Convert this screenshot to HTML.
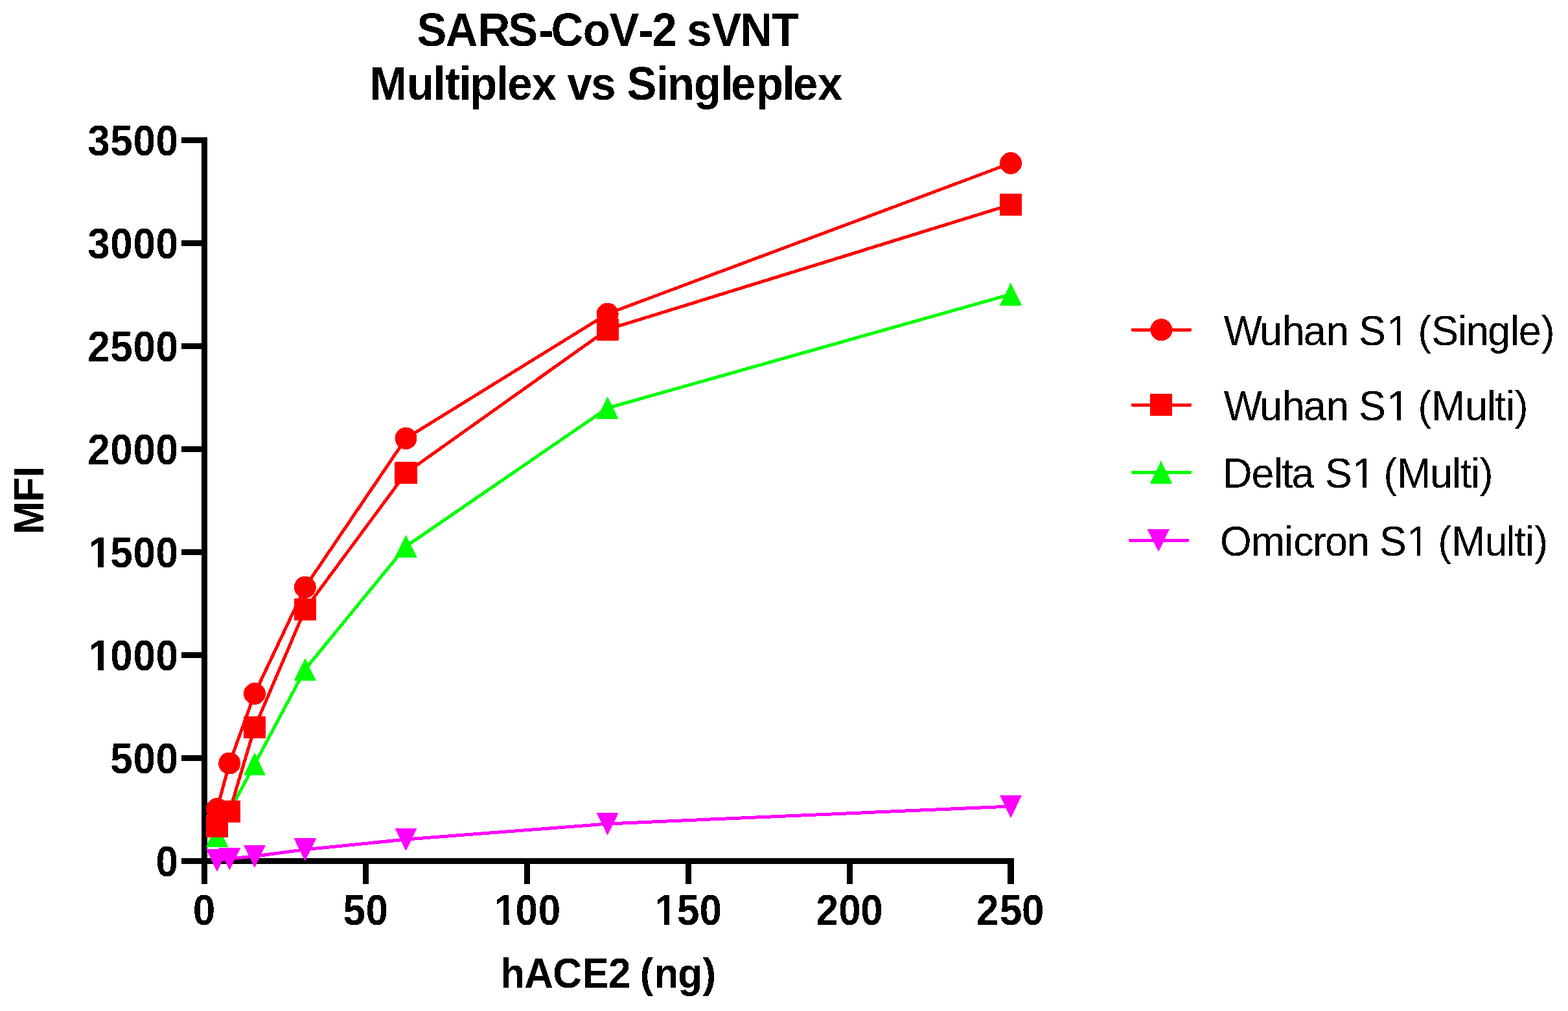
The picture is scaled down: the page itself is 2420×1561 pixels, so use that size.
<!DOCTYPE html>
<html><head><meta charset="utf-8"><title>SARS-CoV-2 sVNT Multiplex vs Singleplex</title>
<style>
html,body{margin:0;padding:0;background:#fff;}
body{width:2420px;height:1561px;overflow:hidden;}
svg{display:block;}
text{font-family:"Liberation Sans", Arial, sans-serif;font-kerning:none;fill:#000;}
.b{font-weight:bold;}
</style></head><body>
<svg width="2420" height="1561" viewBox="0 0 2420 1561">
<defs><filter id="bin" x="0" y="0" width="100%" height="100%" filterUnits="userSpaceOnUse"><feComponentTransfer><feFuncA type="discrete" tableValues="0 1"/></feComponentTransfer></filter></defs>
<rect x="0" y="0" width="2420" height="1561" fill="#fff"/>
<g filter="url(#bin)">
<text class="b" x="643.4 687.69 737.85 784.3 831.62 850.62 899.77 940.54 985.52 1006.14 1043.1 1060.16 1098.54 1142.21 1191.01" y="0" transform="translate(0,71) scale(1,1.056)" font-size="68.84">SARS-CoV-2 sVNT</text>
<text class="b" x="570.83 628.06 668.42 687.04 708.47 725.27 766.37 783.29 820.87 857.83 875.42 912.16 949.12 967.5 1013.37 1029.79 1070.97 1112.47 1128.04 1167.07 1207.42 1224.09 1261.92" y="0" transform="translate(0,154) scale(1,1.056)" font-size="68.84">Multiplex vs Singleplex</text>
<g fill="#000">
<rect x="311" y="212" width="9" height="1153"/>
<rect x="280" y="1325" width="1285" height="9"/>
<rect x="280" y="1166.0" width="31" height="9"/>
<rect x="280" y="1007.0" width="31" height="9"/>
<rect x="280" y="848.0" width="31" height="9"/>
<rect x="280" y="689.0" width="31" height="9"/>
<rect x="280" y="530.0" width="31" height="9"/>
<rect x="280" y="371.0" width="31" height="9"/>
<rect x="280" y="212.0" width="31" height="9"/>
<rect x="559.9" y="1334" width="9" height="31"/>
<rect x="808.8" y="1334" width="9" height="31"/>
<rect x="1057.7" y="1334" width="9" height="31"/>
<rect x="1306.6" y="1334" width="9" height="31"/>
<rect x="1555.5" y="1334" width="9" height="31"/>
</g>
<text class="b" x="240.56" y="0" transform="translate(0,1353) scale(1,1.07)" font-size="62.0">0</text>
<text class="b" x="170.36 205.46 240.56" y="0" transform="translate(0,1194) scale(1,1.07)" font-size="62.0">500</text>
<text class="b" x="136.76 170.36 205.46 240.56" y="0" transform="translate(0,1035) scale(1,1.07)" font-size="62.0">1000</text>
<text class="b" x="136.76 170.36 205.46 240.56" y="0" transform="translate(0,876) scale(1,1.07)" font-size="62.0">1500</text>
<text class="b" x="135.26 170.36 205.46 240.56" y="0" transform="translate(0,717) scale(1,1.07)" font-size="62.0">2000</text>
<text class="b" x="135.26 170.36 205.46 240.56" y="0" transform="translate(0,558) scale(1,1.07)" font-size="62.0">2500</text>
<text class="b" x="135.26 170.36 205.46 240.56" y="0" transform="translate(0,399) scale(1,1.07)" font-size="62.0">3000</text>
<text class="b" x="135.26 170.36 205.46 240.56" y="0" transform="translate(0,240) scale(1,1.07)" font-size="62.0">3500</text>
<text class="b" x="297.85" y="0" transform="translate(0,1427.9) scale(1,1.07)" font-size="62.0">0</text>
<text class="b" x="529.43 564.53" y="0" transform="translate(0,1427.9) scale(1,1.07)" font-size="62.0">50</text>
<text class="b" x="762.54 795.5 830.8" y="0" transform="translate(0,1427.9) scale(1,1.07)" font-size="62.0">100</text>
<text class="b" x="1010.44 1045.12 1079.6" y="0" transform="translate(0,1427.9) scale(1,1.07)" font-size="62.0">150</text>
<text class="b" x="1259.53 1294.2 1328.2" y="0" transform="translate(0,1427.9) scale(1,1.07)" font-size="62.0">200</text>
<text class="b" x="1507.03 1542.92 1577" y="0" transform="translate(0,1427.9) scale(1,1.07)" font-size="62.0">250</text>
<text class="b" x="772.27 809.21 853.24 898.51 938.98 972.93 987.71 1009.44 1046.22 1084.59" y="0" transform="translate(0,1524.9) scale(1,1.053)" font-size="62.0">hACE2 (ng)</text>
<text class="b" x="174.78 225.23 262.99" y="0" transform="translate(67,1000) rotate(-90) scale(1,1.055)" font-size="62.0">MFI</text>
<polyline points="335,1328 354.2,1326 393,1322 470.8,1311.8 626.5,1296 937.6,1272 1560,1245" fill="none" stroke="#FF00FF" stroke-width="5" stroke-linejoin="round"/>
<polygon points="317.8,1310.8 352.2,1310.8 335,1345.8" fill="#FF00FF"/>
<polygon points="337,1308.8 371.4,1308.8 354.2,1343.8" fill="#FF00FF"/>
<polygon points="375.8,1304.8 410.2,1304.8 393,1339.8" fill="#FF00FF"/>
<polygon points="453.6,1294.6 488,1294.6 470.8,1329.6" fill="#FF00FF"/>
<polygon points="609.3,1278.8 643.7,1278.8 626.5,1313.8" fill="#FF00FF"/>
<polygon points="920.4,1254.8 954.8,1254.8 937.6,1289.8" fill="#FF00FF"/>
<polygon points="1542.8,1227.8 1577.2,1227.8 1560,1262.8" fill="#FF00FF"/>
<polyline points="335,1290.7 354.2,1252.5 393,1180 470.8,1033.7 626.5,843.6 937.6,630 1560,454.3" fill="none" stroke="#00FF00" stroke-width="5" stroke-linejoin="round"/>
<polygon points="335,1272.9 352.2,1307.9 317.8,1307.9" fill="#00FF00"/>
<polygon points="354.2,1234.7 371.4,1269.7 337,1269.7" fill="#00FF00"/>
<polygon points="393,1162.2 410.2,1197.2 375.8,1197.2" fill="#00FF00"/>
<polygon points="470.8,1015.9 488,1050.9 453.6,1050.9" fill="#00FF00"/>
<polygon points="626.5,825.8 643.7,860.8 609.3,860.8" fill="#00FF00"/>
<polygon points="937.6,612.2 954.8,647.2 920.4,647.2" fill="#00FF00"/>
<polygon points="1560,436.5 1577.2,471.5 1542.8,471.5" fill="#00FF00"/>
<polyline points="335,1275.9 354.2,1253 393,1123.3 470.8,940.9 626.5,730.3 937.6,508.7 1560,315.9" fill="none" stroke="#FF0000" stroke-width="5" stroke-linejoin="round"/>
<rect x="318" y="1258.9" width="34" height="34" fill="#FF0000"/>
<rect x="337.2" y="1236" width="34" height="34" fill="#FF0000"/>
<rect x="376" y="1106.3" width="34" height="34" fill="#FF0000"/>
<rect x="453.8" y="923.9" width="34" height="34" fill="#FF0000"/>
<rect x="609.5" y="713.3" width="34" height="34" fill="#FF0000"/>
<rect x="920.6" y="491.7" width="34" height="34" fill="#FF0000"/>
<rect x="1543" y="298.9" width="34" height="34" fill="#FF0000"/>
<polyline points="335,1249 354.2,1178.5 393,1071.1 470.8,906.7 626.5,676.8 937.6,484.5 1560,252" fill="none" stroke="#FF0000" stroke-width="5" stroke-linejoin="round"/>
<circle cx="335" cy="1249" r="17" fill="#FF0000"/>
<circle cx="354.2" cy="1178.5" r="17" fill="#FF0000"/>
<circle cx="393" cy="1071.1" r="17" fill="#FF0000"/>
<circle cx="470.8" cy="906.7" r="17" fill="#FF0000"/>
<circle cx="626.5" cy="676.8" r="17" fill="#FF0000"/>
<circle cx="937.6" cy="484.5" r="17" fill="#FF0000"/>
<circle cx="1560" cy="252" r="17" fill="#FF0000"/>
<rect x="1745.9" y="506.8" width="93" height="5" rx="1.5" fill="#FF0000"/>
<circle cx="1792.4" cy="509.3" r="17" fill="#FF0000"/>
<text x="1888.79 1943.99 1978.85 2011.66 2047.05 2080.97 2097.08 2140.12 2174.04 2188.28 2209.18 2250.04 2263 2296.25 2331.11 2343.7 2378.86" y="0" transform="translate(0,532.8) scale(1,1.04)" font-size="62.78">Wuhan S1 (Single)</text>
<rect x="1745.9" y="622.7" width="93" height="5" rx="1.5" fill="#FF0000"/>
<rect x="1775.2" y="608.2" width="34" height="34" fill="#FF0000"/>
<text x="1888.79 1943.99 1978.85 2011.66 2047.05 2080.97 2097.08 2140.22 2174.14 2188.28 2209.25 2260.99 2295.01 2307.08 2324.14 2337.81" y="0" transform="translate(0,649) scale(1,1.04)" font-size="62.78">Wuhan S1 (Multi)</text>
<rect x="1745.9" y="726.8" width="93" height="5" rx="1.5" fill="#00FF00"/>
<polygon points="1792,711.5 1809.2,746.5 1774.8,746.5" fill="#00FF00"/>
<text x="1887.26 1931.55 1966.01 1978.13 1993.61 2027.54 2044.93 2087.22 2121.14 2135.18 2156.3 2206.89 2241.01 2254.08 2270.09 2283.71" y="0" transform="translate(0,752.9) scale(1,1.04)" font-size="62.78">Delta S1 (Multi)</text>
<rect x="1741.9" y="831.7" width="93" height="5" rx="1.5" fill="#FF00FF"/>
<polygon points="1770.7,817 1805.1,817 1787.9,852" fill="#FF00FF"/>
<text x="1882.9 1930.79 1982.09 1996.25 2026.03 2045.09 2079 2112.92 2129.03 2171.12 2205.04 2219.28 2240.3 2291.84 2324.81 2337.63 2354.04 2368.21" y="0" transform="translate(0,858) scale(1,1.04)" font-size="62.78">Omicron S1 (Multi)</text>
<g fill="#fff"><rect x="139" y="1027" width="12" height="9"/><rect x="160" y="1027" width="11" height="9"/><rect x="139" y="868" width="12" height="9"/><rect x="160" y="868" width="11" height="9"/><rect x="765" y="1420" width="12" height="9"/><rect x="786" y="1420" width="11" height="9"/><rect x="1013" y="1420" width="12" height="9"/><rect x="1033" y="1420" width="12" height="9"/><rect x="2143" y="526" width="13" height="8"/><rect x="2161" y="526" width="12" height="8"/><rect x="2144" y="643" width="12" height="7"/><rect x="2162" y="643" width="12" height="7"/><rect x="2091" y="747" width="12" height="7"/><rect x="2109" y="747" width="12" height="7"/><rect x="2174" y="852" width="13" height="7"/><rect x="2192" y="852" width="12" height="7"/></g>
</g>
</svg>
</body></html>
